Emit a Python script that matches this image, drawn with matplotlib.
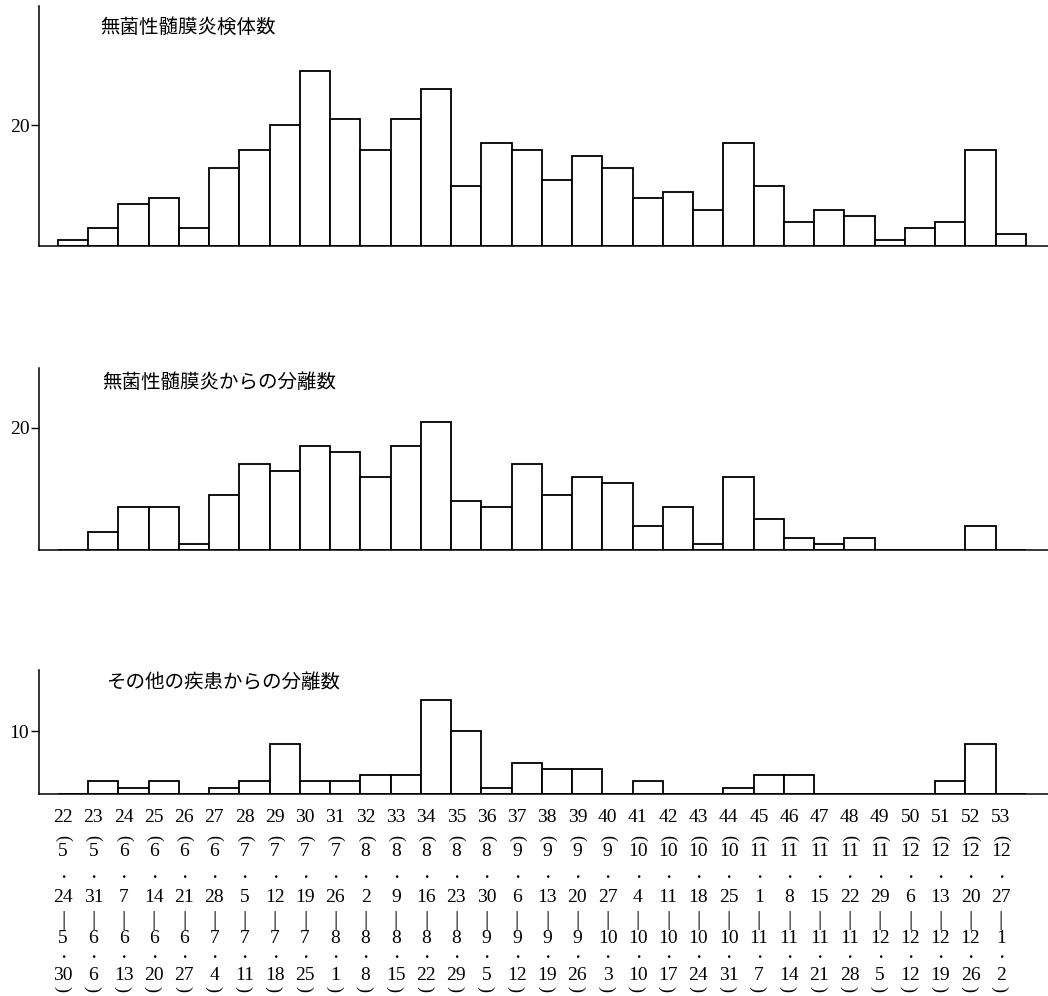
import matplotlib
matplotlib.use("Agg")
import matplotlib.pyplot as plt
from matplotlib.transforms import blended_transform_factory

# ---------------- data ----------------
weeks = list(range(22, 54))
specimens = [1, 3, 7, 8, 3, 13, 16, 20, 29, 21, 16, 21, 26, 10, 17, 16,
             11, 15, 13, 8, 9, 6, 17, 10, 4, 6, 5, 1, 3, 4, 16, 2]
meningitis_isolates = [0, 3, 7, 7, 1, 9, 14, 13, 17, 16, 12, 17, 21, 8, 7, 14,
                       9, 12, 11, 4, 7, 1, 12, 5, 2, 1, 2, 0, 0, 0, 4, 0]
other_isolates = [0, 2, 1, 2, 0, 1, 2, 8, 2, 2, 3, 3, 15, 10, 1, 5,
                  4, 4, 0, 2, 0, 0, 1, 3, 3, 0, 0, 0, 0, 2, 8, 0]

month_start = [5, 5, 6, 6, 6, 6, 7, 7, 7, 7, 8, 8, 8, 8, 8, 9,
               9, 9, 9, 10, 10, 10, 10, 11, 11, 11, 11, 11, 12, 12, 12, 12]
day_start = [24, 31, 7, 14, 21, 28, 5, 12, 19, 26, 2, 9, 16, 23, 30, 6,
             13, 20, 27, 4, 11, 18, 25, 1, 8, 15, 22, 29, 6, 13, 20, 27]
month_end = [5, 6, 6, 6, 6, 7, 7, 7, 7, 8, 8, 8, 8, 8, 9, 9,
             9, 9, 10, 10, 10, 10, 10, 11, 11, 11, 11, 12, 12, 12, 12, 1]
day_end = [30, 6, 13, 20, 27, 4, 11, 18, 25, 1, 8, 15, 22, 29, 5, 12,
           19, 26, 3, 10, 17, 24, 31, 7, 14, 21, 28, 5, 12, 19, 26, 2]

titles = ["無菌性髄膜炎検体数", "無菌性髄膜炎からの分離数", "その他の疾患からの分離数"]
yticks = [20, 20, 10]

# ---------------- layout ----------------
W, H = 1048, 996
fig = plt.figure(figsize=(W / 100, H / 100), dpi=100)

SERIF = ["Liberation Serif", "DejaVu Serif"]
CJK = ["Noto Sans CJK JP", "DejaVu Sans"]


def rect(left, top, right, bottom):
    return [left / W, 1 - bottom / H, (right - left) / W, (bottom - top) / H]


# (top px, bottom px, ymax, title x px, title y px)
geom = [(6, 246, 39.8, 100, 27),
        (368, 550, 29.8, 102, 383),
        (670, 794, 19.8, 106, 683)]
series = [specimens, meningitis_isolates, other_isolates]

x = list(range(len(weeks)))
axes = []
for (top, bot, ymax, tx, ty), vals, title, yt in zip(geom, series, titles, yticks):
    ax = fig.add_axes(rect(39, top, 1048, bot))
    ax.bar(x, vals, width=1.0, color="white", edgecolor="black", linewidth=1.3)
    ax.set_xlim(-1.128, 32.23)
    ax.set_ylim(0, ymax)
    for s in ("top", "right"):
        ax.spines[s].set_visible(False)
    for s in ("left", "bottom"):
        ax.spines[s].set_linewidth(1.1)
        ax.spines[s].set_color("black")
    ax.set_xticks([])
    ax.set_yticks([yt])
    ax.set_yticklabels([str(yt)], fontfamily=SERIF, fontsize=14)
    ax.tick_params(axis="y", direction="out", length=6, width=1.0, pad=1)
    fig.text(tx / W, 1 - ty / H, title, family=CJK, fontsize=14,
             ha="left", va="center")
    axes.append(ax)

# ---------------- date labels under bottom panel ----------------
ax = axes[-1]
tr = blended_transform_factory(ax.transData, fig.transFigure)


def fy(py):
    return 1 - py / H


def put(xi, py, s, family=SERIF, size=14, rot=0):
    ax.text(xi, fy(py), s, transform=tr, ha="center", va="center",
            family=family, fontsize=size, rotation=rot,
            rotation_mode="anchor", clip_on=False)


dx = -0.33
for i, wk in enumerate(weeks):
    xi = i + dx
    put(xi, 817, str(wk))
    put(xi, 838, "(", size=13, rot=-90)
    put(xi, 851, str(month_start[i]))
    put(xi, 877, "・", family=CJK, size=9)
    put(xi, 897, str(day_start[i]))
    put(xi, 920, "|", size=15)
    put(xi, 938, str(month_end[i]))
    put(xi, 957, "・", family=CJK, size=9)
    put(xi, 975, str(day_end[i]))
    put(xi, 989, "(", size=13, rot=90)

fig.savefig("out.png", dpi=100, facecolor="white")
